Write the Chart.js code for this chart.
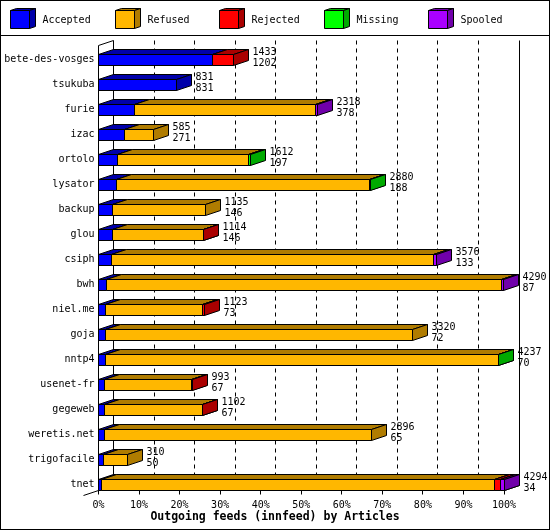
<!DOCTYPE html>
<html>
<head>
<meta charset="utf-8">
<script src="https://cdn.jsdelivr.net/npm/chart.js@4/dist/chart.umd.min.js"></script>
<style>
  body { margin: 0; background: #fff; }
  canvas { display: block; }
</style>
</head>
<body>
<canvas id="myChart" width="550" height="530"></canvas>
<script>
const feeds = ["bete-des-vosges", "tsukuba", "furie", "izac", "ortolo", "lysator", "backup", "glou", "csiph",
  "bwh", "niel.me", "goja", "nntp4", "usenet-fr", "gegeweb", "weretis.net", "trigofacile", "tnet"]

// articles per feed, split by outcome
const accepted = [1202, 831, 378, 271, 197, 188, 146, 146, 133, 87, 73, 72, 70, 67, 67, 65, 50, 34]
const refused = [0, 0, 1915, 314, 1388, 2682, 989, 963, 3413, 4181, 1030, 3248, 4162, 918, 1030, 2831, 260, 4158]
const rejected = [231, 0, 0, 0, 0, 0, 0, 5, 0, 0, 20, 0, 0, 8, 5, 0, 0, 70]
const missing = [0, 0, 0, 0, 27, 10, 0, 0, 0, 0, 0, 0, 5, 0, 0, 0, 0, 0]
const spooled = [0, 0, 25, 0, 0, 0, 0, 0, 30, 22, 0, 0, 0, 0, 0, 0, 0, 32]

const totals = feeds.map((f, i) => accepted[i] + refused[i] + rejected[i] + missing[i] + spooled[i])
const maxTotal = Math.max(...totals)
const pct = arr => arr.map(v => v / maxTotal * 100)

const FONT = "'DejaVu Sans Mono', 'Liberation Mono', monospace"
const D = 15, DY = 5

const datasets = [
  { label: "Accepted", data: pct(accepted), backgroundColor: "rgb(0,0,255)", dark: "rgb(0,0,170)" },
  { label: "Refused", data: pct(refused), backgroundColor: "rgb(255,183,0)", dark: "rgb(176,124,0)" },
  { label: "Rejected", data: pct(rejected), backgroundColor: "rgb(255,0,0)", dark: "rgb(170,0,0)" },
  { label: "Missing", data: pct(missing), backgroundColor: "rgb(0,255,0)", dark: "rgb(0,170,0)" },
  { label: "Spooled", data: pct(spooled), backgroundColor: "rgb(170,0,255)", dark: "rgb(112,0,170)" },
]

const crisp = v => Math.floor(v) + 0.5

function box(ctx, x0, x1, yt, yb, front, dark, d, dy) {
  ctx.fillStyle = front
  ctx.beginPath()
  ctx.rect(x0, yt, x1 - x0, yb - yt)
  ctx.fill()
  ctx.stroke()
  ctx.fillStyle = dark
  ctx.beginPath()
  ctx.moveTo(x0, yt)
  ctx.lineTo(x0 + d, yt - dy)
  ctx.lineTo(x1 + d, yt - dy)
  ctx.lineTo(x1, yt)
  ctx.closePath()
  ctx.fill()
  ctx.stroke()
  ctx.beginPath()
  ctx.moveTo(x1, yt)
  ctx.lineTo(x1 + d, yt - dy)
  ctx.lineTo(x1 + d, yb - dy)
  ctx.lineTo(x1, yb)
  ctx.closePath()
  ctx.fill()
  ctx.stroke()
}

const bars3d = {
  id: "bars3d",
  beforeDraw(chart) {
    const ctx = chart.ctx
    ctx.save()
    ctx.fillStyle = "#fff"
    ctx.fillRect(0, 0, chart.width, chart.height)
    ctx.strokeStyle = "#000"
    ctx.lineWidth = 1
    ctx.strokeRect(0.5, 0.5, chart.width - 1, chart.height - 1)
    ctx.beginPath()
    ctx.moveTo(0, 35.5)
    ctx.lineTo(chart.width, 35.5)
    ctx.stroke()

    // legend with little cubes
    chart.data.datasets.forEach((ds, i) => {
      const x = Math.round(10 + i * 104.6) + 0.5
      box(ctx, x, x + 19, 10.5, 28.5, ds.backgroundColor, ds.dark, 6, 2)
      ctx.fillStyle = "#000"
      ctx.font = "10px " + FONT
      ctx.textBaseline = "middle"
      ctx.textAlign = "left"
      ctx.fillText(ds.label, x + 32, 20)
    })

    // back plane and grid
    const xs = chart.scales.x
    const x0 = crisp(xs.getPixelForValue(0))
    const x100 = crisp(xs.getPixelForValue(100))
    const yTop = 40.5, yAxis = 490.5
    ctx.setLineDash([4, 4])
    for (let v = 10; v < 100; v += 10) {
      const x = crisp(xs.getPixelForValue(v)) + D
      ctx.beginPath()
      ctx.moveTo(x, yTop)
      ctx.lineTo(x, yAxis - DY)
      ctx.stroke()
    }
    ctx.setLineDash([])
    ctx.beginPath()
    ctx.moveTo(x0 + D, yTop)
    ctx.lineTo(x0 + D, yAxis - DY)
    ctx.moveTo(x100 + D, yTop)
    ctx.lineTo(x100 + D, yAxis - DY)
    ctx.lineTo(x100, yAxis)
    ctx.lineTo(x0, yAxis)
    ctx.lineTo(x0, yTop + DY)
    ctx.lineTo(x0 + D, yTop)
    ctx.moveTo(x0, yAxis)
    ctx.lineTo(x0 - D, yAxis + DY)
    for (let v = 0; v <= 100; v += 10) {
      const x = crisp(xs.getPixelForValue(v))
      ctx.moveTo(x, yAxis)
      ctx.lineTo(x, yAxis + 4)
    }
    ctx.stroke()

    // title
    ctx.fillStyle = "#000"
    ctx.font = "bold 11.5px " + FONT
    ctx.textAlign = "center"
    ctx.textBaseline = "alphabetic"
    ctx.fillText("Outgoing feeds (innfeed) by Articles", chart.width / 2, 520)
    ctx.restore()
  },
  beforeDatasetsDraw(chart) {
    const ctx = chart.ctx
    ctx.save()
    ctx.strokeStyle = "#000"
    ctx.lineWidth = 1
    const metas = chart.data.datasets.map((ds, i) => chart.getDatasetMeta(i))
    feeds.forEach((feed, row) => {
      let end = null, yt, yb
      metas.forEach((meta, di) => {
        const ds = chart.data.datasets[di]
        const el = meta.data[row]
        const p = el.getProps(["x", "y", "base", "height"], true)
        yt = Math.round(p.y - p.height / 2) + 0.5
        yb = Math.round(p.y + p.height / 2) + 0.5
        if (ds.data[row] <= 0) return
        const a = crisp(p.base), b = crisp(p.x)
        box(ctx, a, b, yt, yb, ds.backgroundColor, ds.dark, D, DY)
        end = b
      })
      if (end !== null) {
        ctx.fillStyle = "#000"
        ctx.font = "10px " + FONT
        ctx.textAlign = "left"
        ctx.textBaseline = "alphabetic"
        ctx.fillText(String(totals[row]), end + D + 4, yt)
        ctx.fillText(String(accepted[row]), end + D + 4, yb)
      }
    })
    ctx.restore()
    return false
  },
}

const config = {
  type: "bar",
  data: { labels: feeds, datasets: datasets },
  options: {
    indexAxis: "y",
    responsive: false,
    animation: false,
    events: [],
    categoryPercentage: 1,
    barPercentage: 0.46,
    layout: { padding: { top: 47, left: 4, right: 46, bottom: 0 } },
    plugins: { legend: { display: false }, tooltip: { enabled: false }, title: { display: false } },
    scales: {
      x: {
        stacked: true,
        min: 0,
        max: 100,
        afterFit: s => { s.height = 33 },
        grid: { display: false, drawTicks: false },
        border: { display: false },
        ticks: {
          stepSize: 10,
          padding: 2,
          color: "#000",
          font: { family: FONT, size: 10 },
          callback: v => v + "%",
        },
      },
      y: {
        stacked: true,
        afterFit: s => { s.width = 94.5 },
        grid: { display: false, drawTicks: false },
        border: { display: false },
        ticks: { padding: 4, color: "#000", font: { family: FONT, size: 10 }, autoSkip: false },
      },
    },
  },
  plugins: [bars3d],
}

const myChart = new Chart(document.getElementById("myChart"), config)
</script>
</body>
</html>
